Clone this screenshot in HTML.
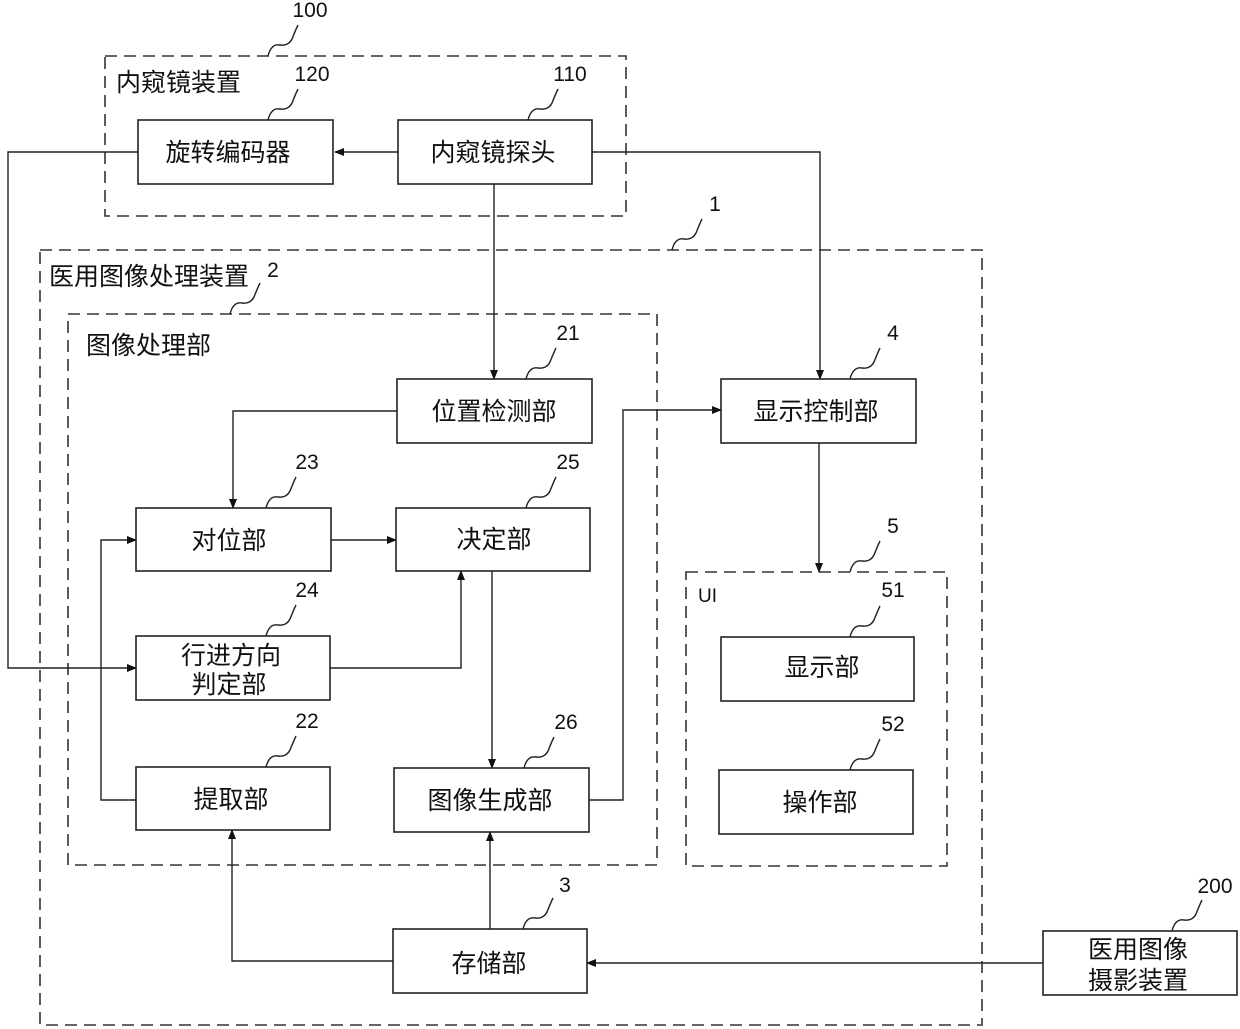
<!DOCTYPE html>
<html><head><meta charset="utf-8"><style>
body{margin:0;background:#fff}
svg{display:block}
text{font-family:"Liberation Sans","Noto Sans CJK SC",sans-serif;fill:#111}
.b{fill:#fff;stroke:#222;stroke-width:1.6}
.d{fill:none;stroke:#333;stroke-width:1.6;stroke-dasharray:12,7}
.l{fill:none;stroke:#222;stroke-width:1.4}
.t{font-size:25px;text-anchor:middle}
.n{font-size:21px;text-anchor:middle}
.g{font-size:25px}
</style></head><body>
<svg width="1240" height="1029" viewBox="0 0 1240 1029" xmlns="http://www.w3.org/2000/svg">
<defs><marker id="a" markerWidth="10" markerHeight="10" refX="9" refY="5" orient="auto" markerUnits="userSpaceOnUse"><path d="M0,1 L10,5 L0,9 z" fill="#111"/></marker></defs>
<rect class="d" x="105" y="56" width="521" height="160"/>
<rect class="d" x="40" y="250" width="942" height="775"/>
<rect class="d" x="68" y="314" width="589" height="551"/>
<rect class="d" x="686" y="572" width="261" height="294"/>
<text class="g" x="116" y="91">内窥镜装置</text>
<text class="g" x="49" y="285">医用图像处理装置</text>
<text class="g" x="86" y="354">图像处理部</text>
<text x="698" y="602" style="font-size:19px">UI</text>
<path class="l" d="M138,152 H8 V668 H136" marker-end="url(#a)"/>
<path class="l" d="M398,152 H335" marker-end="url(#a)"/>
<path class="l" d="M592,152 H820 V379" marker-end="url(#a)"/>
<path class="l" d="M494,184 V379" marker-end="url(#a)"/>
<path class="l" d="M397,411 H233 V508" marker-end="url(#a)"/>
<path class="l" d="M331,540 H396" marker-end="url(#a)"/>
<path class="l" d="M330,668 H461 V571" marker-end="url(#a)"/>
<path class="l" d="M492,571 V768" marker-end="url(#a)"/>
<path class="l" d="M136,800 H101 V540 H136" marker-end="url(#a)"/>
<path class="l" d="M589,800 H623 V410 H721" marker-end="url(#a)"/>
<path class="l" d="M819,443 V572" marker-end="url(#a)"/>
<path class="l" d="M393,961 H232 V830" marker-end="url(#a)"/>
<path class="l" d="M490,929 V832" marker-end="url(#a)"/>
<path class="l" d="M1043,963 H587" marker-end="url(#a)"/>
<rect class="b" x="138" y="120" width="195" height="64"/><text class="t" x="228" y="161">旋转编码器</text>
<rect class="b" x="398" y="120" width="194" height="64"/><text class="t" x="493" y="161">内窥镜探头</text>
<rect class="b" x="397" y="379" width="195" height="64"/><text class="t" x="494" y="420">位置检测部</text>
<rect class="b" x="721" y="379" width="195" height="64"/><text class="t" x="816" y="420">显示控制部</text>
<rect class="b" x="136" y="508" width="195" height="63"/><text class="t" x="229" y="549">对位部</text>
<rect class="b" x="396" y="508" width="194" height="63"/><text class="t" x="494" y="548">决定部</text>
<rect class="b" x="136" y="636" width="194" height="64"/><text class="t" x="231" y="664">行进方向</text><text class="t" x="229" y="693">判定部</text>
<rect class="b" x="136" y="767" width="194" height="63"/><text class="t" x="231" y="808">提取部</text>
<rect class="b" x="394" y="768" width="195" height="64"/><text class="t" x="490" y="809">图像生成部</text>
<rect class="b" x="393" y="929" width="194" height="64"/><text class="t" x="489" y="972">存储部</text>
<rect class="b" x="721" y="637" width="193" height="64"/><text class="t" x="822" y="676">显示部</text>
<rect class="b" x="719" y="770" width="194" height="64"/><text class="t" x="820" y="811">操作部</text>
<rect class="b" x="1043" y="931" width="194" height="64"/><text class="t" x="1138" y="958">医用图像</text><text class="t" x="1138" y="989">摄影装置</text>
<g class="l">
<path d="M268,56 c2,-8 6,-12 12,-11 c6,1 10,-2 12,-6 c2,-5 4,-10 6,-14"/>
<path d="M268,120 c2,-8 6,-12 12,-11 c6,1 10,-2 12,-6 c2,-5 4,-10 6,-14"/>
<path d="M528,120 c2,-8 6,-12 12,-11 c6,1 10,-2 12,-6 c2,-5 4,-10 6,-14"/>
<path d="M672,250 c2,-8 6,-12 12,-11 c6,1 10,-2 12,-6 c2,-5 4,-10 6,-14"/>
<path d="M230,314 c2,-8 6,-12 12,-11 c6,1 10,-2 12,-6 c2,-5 4,-10 6,-14"/>
<path d="M526,379 c2,-8 6,-12 12,-11 c6,1 10,-2 12,-6 c2,-5 4,-10 6,-14"/>
<path d="M850,379 c2,-8 6,-12 12,-11 c6,1 10,-2 12,-6 c2,-5 4,-10 6,-14"/>
<path d="M266,508 c2,-8 6,-12 12,-11 c6,1 10,-2 12,-6 c2,-5 4,-10 6,-14"/>
<path d="M526,508 c2,-8 6,-12 12,-11 c6,1 10,-2 12,-6 c2,-5 4,-10 6,-14"/>
<path d="M850,572 c2,-8 6,-12 12,-11 c6,1 10,-2 12,-6 c2,-5 4,-10 6,-14"/>
<path d="M266,636 c2,-8 6,-12 12,-11 c6,1 10,-2 12,-6 c2,-5 4,-10 6,-14"/>
<path d="M850,637 c2,-8 6,-12 12,-11 c6,1 10,-2 12,-6 c2,-5 4,-10 6,-14"/>
<path d="M266,767 c2,-8 6,-12 12,-11 c6,1 10,-2 12,-6 c2,-5 4,-10 6,-14"/>
<path d="M524,768 c2,-8 6,-12 12,-11 c6,1 10,-2 12,-6 c2,-5 4,-10 6,-14"/>
<path d="M850,770 c2,-8 6,-12 12,-11 c6,1 10,-2 12,-6 c2,-5 4,-10 6,-14"/>
<path d="M523,929 c2,-8 6,-12 12,-11 c6,1 10,-2 12,-6 c2,-5 4,-10 6,-14"/>
<path d="M1172,931 c2,-8 6,-12 12,-11 c6,1 10,-2 12,-6 c2,-5 4,-10 6,-14"/>
</g>
<text class="n" x="310" y="17">100</text>
<text class="n" x="312" y="81">120</text>
<text class="n" x="570" y="81">110</text>
<text class="n" x="715" y="211">1</text>
<text class="n" x="273" y="277">2</text>
<text class="n" x="568" y="340">21</text>
<text class="n" x="893" y="340">4</text>
<text class="n" x="307" y="469">23</text>
<text class="n" x="568" y="469">25</text>
<text class="n" x="893" y="533">5</text>
<text class="n" x="307" y="597">24</text>
<text class="n" x="893" y="597">51</text>
<text class="n" x="307" y="728">22</text>
<text class="n" x="566" y="729">26</text>
<text class="n" x="893" y="731">52</text>
<text class="n" x="565" y="892">3</text>
<text class="n" x="1215" y="893">200</text>
</svg>
</body></html>
